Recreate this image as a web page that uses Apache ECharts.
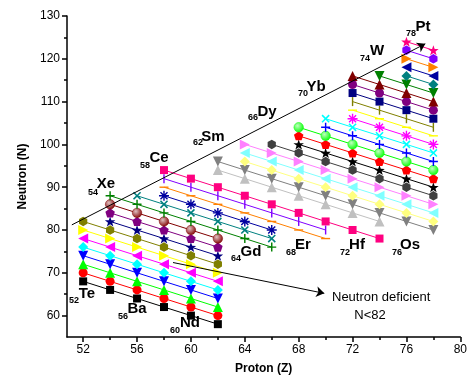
<!DOCTYPE html>
<html>
<head>
<meta charset="utf-8">
<script src="https://cdn.jsdelivr.net/npm/echarts@6/dist/echarts.min.js"></script>
<style>
  html, body { margin: 0; padding: 0; background: #fff; }
  #chart { width: 470px; height: 385px; }
</style>
</head>
<body>
<div id="chart"></div>
<script>
// proton numbers (columns) and tick labels
const protons = [52, 54, 56, 58, 60, 62, 64, 66, 68, 70, 72, 74, 76, 78];
const xTicks = [52, 56, 60, 64, 68, 72, 76, 80];
const xMinorTicks = [54, 58, 62, 66, 70, 74, 78];
const yTicks = [60, 70, 80, 90, 100, 110, 120, 130];
const yMinorTicks = [65, 75, 85, 95, 105, 115, 125];

// isobaric chains (mass number A) and neutron number read for each proton column
const n = null;
const massNumbers = [120, 122, 124, 126, 128, 130, 132, 134, 136, 138, 140, 142, 144, 146, 148, 150, 152,
  156, 158, 160, 162, 164, 166, 168, 170, 172, 174, 176, 178, 180, 182, 184, 186, 188, 190, 192, 194, 196, 198, 200];
const neutrons = [
  [68, 66, 64, 62, 60, 58],
  [70, 68, 66, 64, 62, 60],
  [72, 70, 68, 66, 64, 62],
  [74, 72, 70, 68, 66, 64],
  [76, 74, 72, 70, 68, 66],
  [78, 76, 74, 72, 70, 68],
  [80, 78, 76, 74, 72, 70],
  [82, 80, 78, 76, 74, 72],
  [n, 82, 80, 78, 76, 74],
  [n, 84, 82, 80, 78, 76],
  [n, 86, 84, 82, 80, 78],
  [n, 88, 86, 84, 82, 80, 78, 76],
  [n, n, 88, 86, 84, 82, 80, 78],
  [n, n, n, 88, 86, 84, 82, 80],
  [n, n, n, 90, 88, 86, 84, 82, 80, 78],
  [n, n, n, 92, 90, 88, 86, 84, 82, 80],
  [n, n, n, 94, 92, 90, 88, 86, 84, 82, 80, 78],
  [n, n, n, n, n, 94, 92, 90, 88, 86, 84, 82],
  [n, n, n, n, n, 96, 94, 92, 90, 88, 86, 84, 82, 80],
  [n, n, n, n, n, n, 96, 94, 92, 90, 88, 86, 84, 82],
  [n, n, n, n, n, n, 98, 96, 94, 92, 90, 88, 86, 84],
  [n, n, n, n, n, n, 100, 98, 96, 94, 92, 90, 88, 86],
  [n, n, n, n, n, n, n, 100, 98, 96, 94, 92, 90, 88],
  [n, n, n, n, n, n, n, n, 100, 98, 96, 94, 92, 90],
  [n, n, n, n, n, n, n, n, 102, 100, 98, 96, 94, 92],
  [n, n, n, n, n, n, n, n, 104, 102, 100, 98, 96, 94],
  [n, n, n, n, n, n, n, n, n, 104, 102, 100, 98, 96],
  [n, n, n, n, n, n, n, n, n, 106, 104, 102, 100, 98],
  [n, n, n, n, n, n, n, n, n, n, 106, 104, 102, 100],
  [n, n, n, n, n, n, n, n, n, n, 108, 106, 104, 102],
  [n, n, n, n, n, n, n, n, n, n, 110, 108, 106, 104],
  [n, n, n, n, n, n, n, n, n, n, 112, 110, 108, 106],
  [n, n, n, n, n, n, n, n, n, n, 114, 112, 110, 108],
  [n, n, n, n, n, n, n, n, n, n, 116, 114, 112, 110],
  [n, n, n, n, n, n, n, n, n, n, n, 116, 114, 112],
  [n, n, n, n, n, n, n, n, n, n, n, n, 116, 114],
  [n, n, n, n, n, n, n, n, n, n, n, n, 118, 116],
  [n, n, n, n, n, n, n, n, n, n, n, n, 120, 118],
  [n, n, n, n, n, n, n, n, n, n, n, n, 122, 120],
  [n, n, n, n, n, n, n, n, n, n, n, n, 124, 122]
];

// element labels
const elements = ['Te', 'Xe', 'Ba', 'Ce', 'Nd', 'Sm', 'Gd', 'Dy', 'Er', 'Yb', 'Hf', 'W', 'Os', 'Pt'];
const elementZ = [52, 54, 56, 58, 60, 62, 64, 66, 68, 70, 72, 74, 76, 78];

// ---- styles (origin-like colour and symbol cycles) ----
const colorCycle = ['#000000', '#ff0000', '#00ff00', '#0000ff', '#00ffff', '#ff00ff', '#ffff00', '#808000',
  '#000080', '#800080', '#800000', '#008000', '#008080', '#0000a0', '#ff8000', '#8000ff', '#ff0080',
  '#ffffff', '#c0c0c0', '#808080', '#ffff80', '#80ffff', '#ff80ff', '#404040'];
const symbolCycle = ['square', 'circle', 'up', 'down', 'diamond', 'left', 'right', 'hexagon',
  'star', 'pentagon', 'sphere', 'plus', 'cross', 'asterisk', 'hbar', 'vbar'];

const PLUS = 'path://M4.2,0H5.8V4.2H10V5.8H5.8V10H4.2V5.8H0V4.2H4.2Z';
const ASTER = 'path://M4.3,0H5.7V4.3H10V5.7H5.7V10H4.3V5.7H0V4.3H4.3Z M1,2L2,1L9,8L8,9Z M8,1L9,2L2,9L1,8Z';
const STAR = 'path://M5,0L6.176,3.382L9.755,3.455L6.902,5.618L7.939,9.045L5,7L2.061,9.045L3.098,5.618L0.245,3.455L3.824,3.382Z';
const PENTA = 'path://M5,0L9.755,3.455L7.939,9.045L2.061,9.045L0.245,3.455Z';
const HEXA = 'path://M5,0L9.33,2.5L9.33,7.5L5,10L0.67,7.5L0.67,2.5Z';

const symbolDefs = {
  square:   { symbol: 'rect', size: 8 },
  circle:   { symbol: 'circle', size: 9 },
  up:       { symbol: 'triangle', size: 10 },
  down:     { symbol: 'triangle', size: 10, rotate: 180 },
  diamond:  { symbol: 'diamond', size: 10 },
  left:     { symbol: 'triangle', size: 10, rotate: 90 },
  right:    { symbol: 'triangle', size: 10, rotate: -90 },
  hexagon:  { symbol: HEXA, size: 9.5, keep: true },
  star:     { symbol: STAR, size: 10.5, keep: true },
  pentagon: { symbol: PENTA, size: 9.5, keep: true },
  sphere:   { symbol: 'circle', size: 9.5, sphere: true },
  plus:     { symbol: PLUS, size: 9 },
  cross:    { symbol: PLUS, size: 10, rotate: 45 },
  asterisk: { symbol: ASTER, size: 10 },
  hbar:     { symbol: 'rect', size: [9, 1.4] },
  vbar:     { symbol: 'rect', size: [1.4, 9] }
};

function lighten(hex, f) {
  const v = parseInt(hex.slice(1), 16);
  const r = (v >> 16) & 255, g = (v >> 8) & 255, b = v & 255;
  const m = c => Math.round(c + (255 - c) * f);
  return 'rgb(' + m(r) + ',' + m(g) + ',' + m(b) + ')';
}

const series = massNumbers.map((a, i) => {
  const k = (a - 120) / 2;
  const color = colorCycle[k % colorCycle.length];
  const def = symbolDefs[symbolCycle[k % symbolCycle.length]];
  const pts = [];
  neutrons[i].forEach((nv, j) => { if (nv !== null) pts.push([protons[j], nv]); });
  const fill = def.sphere
    ? new echarts.graphic.RadialGradient(0.38, 0.35, 0.7, [
        { offset: 0, color: lighten(color, 0.75) },
        { offset: 1, color: color }])
    : color;
  return {
    name: 'A=' + a,
    type: 'line',
    data: pts,
    symbol: def.symbol,
    symbolSize: def.size,
    symbolRotate: def.rotate || 0,
    symbolKeepAspect: !!def.keep,
    showAllSymbol: true,
    lineStyle: { color: color, width: 1 },
    itemStyle: { color: fill, borderColor: color, borderWidth: def.sphere ? 0.5 : 0 },
    emphasis: { disabled: true },
    z: 3
  };
});

// annotation arrows
series.push({
  type: 'line',
  data: [],
  clip: false,
  silent: true,
  markLine: {
    silent: true,
    symbol: ['none', 'arrow'],
    symbolSize: 8,
    label: { show: false },
    lineStyle: { color: '#000', width: 1, type: 'solid' },
    emphasis: { disabled: true },
    data: [
      [{ coord: [51.16, 81.2] }, { coord: [77.4, 123.5] }],
      [{ coord: [50.8, 80] }, { coord: [80.65, 78.6] }],
      [{ coord: [58.67, 72.4] }, { coord: [69.9, 65.2] }]
    ]
  },
  z: 2
});

// label positions (pixels)
const labelPos = [
  [87, 294, 74, 301], [106, 184, 93, 193], [137, 309, 123, 317], [159, 158, 145, 166],
  [190, 323, 175, 331], [213, 137, 198, 143], [251, 252, 236, 259], [267, 112, 253, 118],
  [303, 245, 291, 253], [316, 87, 303, 94], [357, 245, 345, 253], [377, 51, 365, 59],
  [410, 245, 397, 253], [423, 27, 411, 34]
];
const FONT = 'Arial, "Liberation Sans", Helvetica, sans-serif';
const graphics = [];
elements.forEach((el, i) => {
  const p = labelPos[i];
  graphics.push({ type: 'text', x: p[0], y: p[1], z: 10,
    style: { text: el, font: 'bold 15px ' + FONT, fill: '#000', textAlign: 'center', textVerticalAlign: 'middle' } });
  graphics.push({ type: 'text', x: p[2], y: p[3], z: 10,
    style: { text: String(elementZ[i]), font: 'bold 9px ' + FONT, fill: '#000', textAlign: 'center', textVerticalAlign: 'middle' } });
});
graphics.push({ type: 'text', x: 332, y: 297, z: 10,
  style: { text: 'Neutron deficient', font: '13px ' + FONT, fill: '#000', textAlign: 'left', textVerticalAlign: 'middle' } });
graphics.push({ type: 'text', x: 370, y: 315, z: 10,
  style: { text: 'N<82', font: '13px ' + FONT, fill: '#000', textAlign: 'center', textVerticalAlign: 'middle' } });

const axisLineStyle = { color: '#000', width: 1.5 };
const labelStyle = { fontSize: 12, color: '#000', fontFamily: FONT };

const option = {
  animation: false,
  backgroundColor: '#fff',
  grid: { left: 67, right: 9, top: 16, bottom: 48, containLabel: false },
  xAxis: [{
    type: 'value', min: 50.8, max: 80,
    name: 'Proton (Z)', nameLocation: 'middle', nameGap: 26,
    nameTextStyle: { fontSize: 12, fontWeight: 'bold', color: '#000', fontFamily: FONT },
    axisLine: { onZero: false, lineStyle: axisLineStyle },
    axisTick: { customValues: xTicks, length: 5, lineStyle: axisLineStyle },
    axisLabel: { customValues: xTicks, margin: 7, ...labelStyle },
    splitLine: { show: false }
  }, {
    type: 'value', min: 50.8, max: 80, position: 'bottom',
    axisLine: { show: false },
    axisTick: { customValues: xMinorTicks, length: 3, lineStyle: axisLineStyle },
    axisLabel: { show: false },
    splitLine: { show: false }
  }],
  yAxis: [{
    type: 'value', min: 55, max: 130,
    name: 'Neutron (N)', nameLocation: 'middle', nameGap: 37,
    nameTextStyle: { fontSize: 12, fontWeight: 'bold', color: '#000', fontFamily: FONT },
    axisLine: { show: true, onZero: false, lineStyle: axisLineStyle },
    axisTick: { show: true, customValues: yTicks, length: 5, lineStyle: axisLineStyle },
    axisLabel: { customValues: yTicks, margin: 7, ...labelStyle },
    splitLine: { show: false }
  }, {
    type: 'value', min: 55, max: 130, position: 'left',
    axisLine: { show: false },
    axisTick: { show: true, customValues: yMinorTicks, length: 3, lineStyle: axisLineStyle },
    axisLabel: { show: false },
    splitLine: { show: false }
  }],
  series: series,
  graphic: graphics
};

const chart = echarts.init(document.getElementById('chart'), null, { renderer: 'canvas' });
chart.setOption(option);
</script>
</body>
</html>
